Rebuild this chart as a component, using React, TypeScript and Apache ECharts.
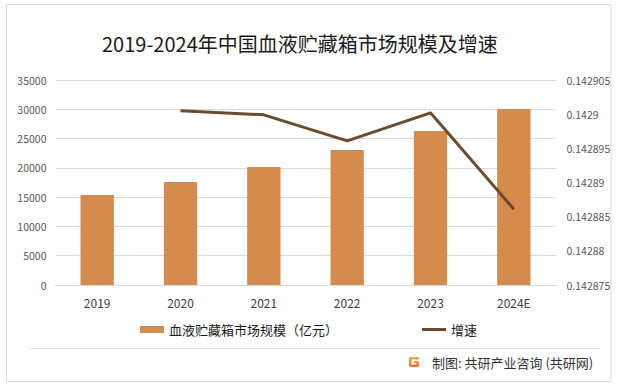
import React, { useEffect, useRef } from "react";
import * as echarts from "echarts";

const categories = ["2019", "2020", "2021", "2022", "2023", "2024E"];
const marketSize = [15360, 17580, 20140, 23040, 26280, 30030];
const growth = [null, 0.1429005, 0.1428999, 0.1428961, 0.1429002, 0.1428861];
const leftTicks = { min: 0, max: 35000, interval: 5000 };
const rightTicks = { min: 0.142875, max: 0.142905, interval: 0.000005 };

const FONT = "'Noto Sans CJK SC', 'Noto Sans', sans-serif";

echarts.graphic.registerShape(
  "glogo",
  echarts.graphic.extendPath(
    "M0 2 Q0 0 2 0 L12 0 L12 3 L3 3 L3 9 L9 9 L9 7.5 L6 7.5 L6 5 L12 5 L12 10 Q12 12 10 12 L2 12 Q0 12 0 10 Z",
    {}
  ) as any
);

export default function App() {
  const ref = useRef<HTMLDivElement>(null);
  useEffect(() => {
    if (!ref.current) return;
    const chart = echarts.init(ref.current, null, { renderer: "svg" });
    chart.setOption({
      animation: false,
      backgroundColor: "#ffffff",
      textStyle: { fontFamily: FONT },
      title: {
        text: "2019-2024年中国血液贮藏箱市场规模及增速",
        left: 97,
        top: 28,
        textStyle: { fontSize: 20, fontWeight: "normal", color: "#1a1a1a", fontFamily: FONT },
      },
      legend: {
        left: 135,
        top: 318,
        itemWidth: 24,
        itemHeight: 7,
        itemGap: 84,
        textStyle: { fontSize: 13, color: "#1a1a1a", fontFamily: FONT },
        data: [
          { name: "血液贮藏箱市场规模（亿元）", icon: "rect" },
          { name: "增速", icon: "path://M0 0 L24 0 L24 3 L0 3 Z" },
        ],
      },
      grid: { left: 55.5, right: 62.5, top: 80, bottom: 101, containLabel: false },
      xAxis: {
        type: "category",
        data: categories,
        axisTick: { show: false },
        axisLine: { lineStyle: { color: "#d9d9d9" } },
        axisLabel: { color: "#404040", fontSize: 12, margin: 11, fontFamily: FONT },
      },
      yAxis: [
        {
          type: "value",
          ...leftTicks,
          axisLine: { show: false },
          axisTick: { show: false },
          splitLine: { lineStyle: { color: "#d9d9d9" } },
          axisLabel: {
            color: "#595959",
            fontSize: 10.5,
            margin: 9,
            fontFamily: FONT,
            formatter: (v: number) => String(v),
          },
        },
        {
          type: "value",
          ...rightTicks,
          axisLine: { show: false },
          axisTick: { show: false },
          splitLine: { show: false },
          axisLabel: {
            color: "#595959",
            fontSize: 10.5,
            margin: 11,
            fontFamily: FONT,
            formatter: (v: number) => String(parseFloat(v.toFixed(6))),
          },
        },
      ],
      series: [
        {
          name: "血液贮藏箱市场规模（亿元）",
          type: "bar",
          data: marketSize,
          barWidth: "40%",
          itemStyle: { color: "#d38b4e" },
        },
        {
          name: "增速",
          type: "line",
          yAxisIndex: 1,
          data: growth,
          symbol: "none",
          lineStyle: { color: "#6b4a2f", width: 3 },
          itemStyle: { color: "#6b4a2f" },
        },
      ],
      graphic: [
        {
          type: "rect",
          shape: { x: 6.5, y: 4.5, width: 604.5, height: 377 },
          style: { fill: "none", stroke: "#d9d9d9", lineWidth: 1 },
          silent: true,
        },
        {
          type: "line",
          shape: { x1: 28, y1: 348.5, x2: 600, y2: 348.5 },
          style: { stroke: "#e3e3e3", lineWidth: 1 },
          silent: true,
        },
        {
          type: "glogo",
          x: 409,
          y: 357,
          scaleX: 10 / 12,
          scaleY: 10 / 12,
          style: {
            fill: new echarts.graphic.LinearGradient(0, 0, 0, 1, [
              { offset: 0, color: "#f7a847" },
              { offset: 1, color: "#ee6a3a" },
            ]),
          },
          silent: true,
        },
        {
          type: "text",
          x: 432,
          y: 362,
          style: {
            text: "制图: 共研产业咨询 (共研网)",
            fontSize: 13,
            fill: "#333333",
            fontFamily: FONT,
            verticalAlign: "middle",
          },
          silent: true,
        },
      ],
    });
    return () => chart.dispose();
  }, []);
  return (
    <div
      ref={ref}
      style={{ position: "absolute", left: 0, top: 0, width: 618, height: 386 }}
    />
  );
}
